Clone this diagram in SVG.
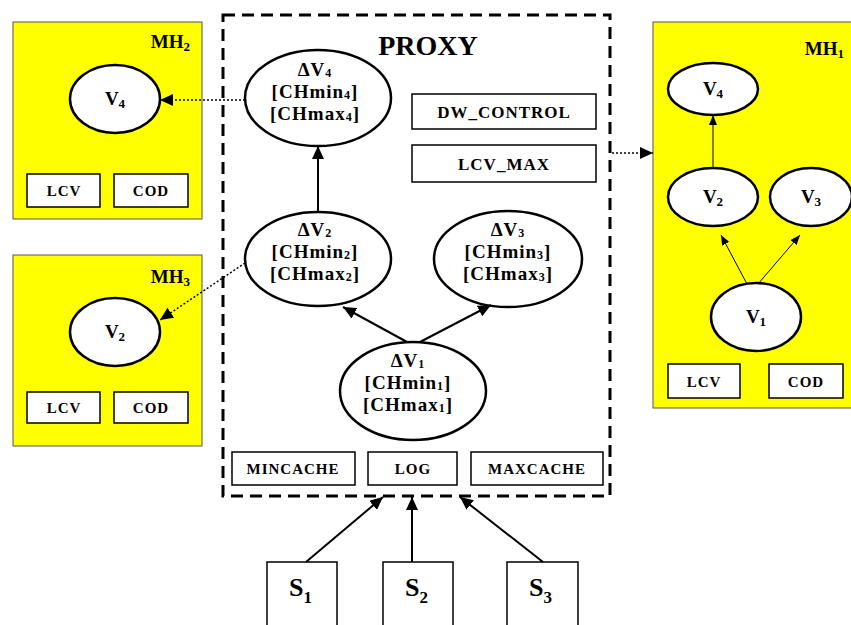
<svg xmlns="http://www.w3.org/2000/svg" width="851" height="625" viewBox="0 0 851 625">
<style>
text{font-family:"Liberation Serif","Times New Roman",serif;font-weight:bold;fill:#000}
.mh{fill:#ffff00;stroke:#555;stroke-width:1}
.el{fill:#fff;stroke:#000;stroke-width:2.5}
.box{fill:#fff;stroke:#000;stroke-width:1.5}
.sm{font-size:15px;letter-spacing:1px;text-anchor:middle}
.md{font-size:17px;letter-spacing:1px;text-anchor:middle}
.ev{font-size:19px;letter-spacing:1px;text-anchor:middle}
.v{font-size:19px;text-anchor:middle}
.lbl{font-size:19px;text-anchor:end}
.ln{stroke:#000;stroke-width:2;fill:none}
.thin{stroke:#000;stroke-width:1;fill:none}
.dot{stroke:#000;stroke-width:1.5;stroke-dasharray:2 2;fill:none}
</style>
<defs>
<marker id="arr" markerUnits="userSpaceOnUse" markerWidth="14" markerHeight="12" refX="13" refY="6" orient="auto"><path d="M0,0 L13,6 L0,12 z" fill="#000"/></marker>
<marker id="arrs" markerUnits="userSpaceOnUse" markerWidth="10" markerHeight="8" refX="10" refY="4" orient="auto"><path d="M0,0 L10,4 L0,8 z" fill="#000"/></marker>
</defs>

<g id="proxy">
<rect x="223" y="15" width="387" height="481" fill="#fff" stroke="#000" stroke-width="3" stroke-dasharray="12 7"/>
<text x="428" y="55" font-size="28" text-anchor="middle">PROXY</text>
</g>

<g id="dv4">
<ellipse class="el" cx="318" cy="98" rx="73" ry="48"/>
<text class="ev"><tspan x="315" y="76">ΔV<tspan font-size="12" dy="1">4</tspan></tspan><tspan x="315" y="98">[CHmin<tspan font-size="12" dy="1">4</tspan><tspan dy="-1">]</tspan></tspan><tspan x="315" y="120">[CHmax<tspan font-size="12" dy="1">4</tspan><tspan dy="-1">]</tspan></tspan></text>
</g>
<g id="dv2">
<ellipse class="el" cx="318" cy="259" rx="73" ry="47"/>
<text class="ev"><tspan x="315" y="236">ΔV<tspan font-size="12" dy="1">2</tspan></tspan><tspan x="315" y="258">[CHmin<tspan font-size="12" dy="1">2</tspan><tspan dy="-1">]</tspan></tspan><tspan x="315" y="280">[CHmax<tspan font-size="12" dy="1">2</tspan><tspan dy="-1">]</tspan></tspan></text>
</g>
<g id="dv3">
<ellipse class="el" cx="508" cy="259" rx="74" ry="48"/>
<text class="ev"><tspan x="508" y="236">ΔV<tspan font-size="12" dy="1">3</tspan></tspan><tspan x="508" y="258">[CHmin<tspan font-size="12" dy="1">3</tspan><tspan dy="-1">]</tspan></tspan><tspan x="508" y="280">[CHmax<tspan font-size="12" dy="1">3</tspan><tspan dy="-1">]</tspan></tspan></text>
</g>
<g id="dv1">
<ellipse class="el" cx="413" cy="391" rx="73" ry="49"/>
<text class="ev"><tspan x="408" y="367">ΔV<tspan font-size="12" dy="1">1</tspan></tspan><tspan x="408" y="389">[CHmin<tspan font-size="12" dy="1">1</tspan><tspan dy="-1">]</tspan></tspan><tspan x="408" y="411">[CHmax<tspan font-size="12" dy="1">1</tspan><tspan dy="-1">]</tspan></tspan></text>
</g>
<g id="dw_control">
<rect class="box" x="412" y="94" width="184" height="35"/>
<text class="md" x="504" y="118">DW_CONTROL</text>
</g>
<g id="lcv_max">
<rect class="box" x="412" y="145" width="184" height="37"/>
<text class="md" x="504" y="170">LCV_MAX</text>
</g>
<g id="mincache">
<rect class="box" x="232" y="452" width="123" height="33"/>
<text class="sm" x="293" y="474">MINCACHE</text>
</g>
<g id="log">
<rect class="box" x="368" y="452" width="89" height="33"/>
<text class="sm" x="413" y="474">LOG</text>
</g>
<g id="maxcache">
<rect class="box" x="471" y="452" width="132" height="33"/>
<text class="sm" x="537" y="474">MAXCACHE</text>
</g>

<g id="mh2">
<rect class="mh" x="13" y="22" width="189" height="197"/>
<text class="lbl" x="190" y="48">MH<tspan font-size="13" dy="3">2</tspan></text>
<ellipse class="el" cx="115" cy="99" rx="45" ry="34"/>
<text class="v" x="115" y="105">V<tspan font-size="13" dy="3">4</tspan></text>
<rect class="box" x="27" y="174" width="73" height="33"/>
<text class="sm" x="64" y="196">LCV</text>
<rect class="box" x="114" y="174" width="74" height="33"/>
<text class="sm" x="151" y="196">COD</text>
</g>

<g id="mh3">
<rect class="mh" x="13" y="255" width="189" height="191"/>
<text class="lbl" x="190" y="283">MH<tspan font-size="13" dy="3">3</tspan></text>
<ellipse class="el" cx="115" cy="332" rx="45" ry="34"/>
<text class="v" x="115" y="338">V<tspan font-size="13" dy="3">2</tspan></text>
<rect class="box" x="27" y="392" width="73" height="31"/>
<text class="sm" x="64" y="413">LCV</text>
<rect class="box" x="114" y="392" width="74" height="31"/>
<text class="sm" x="151" y="413">COD</text>
</g>

<g id="mh1">
<rect class="mh" x="653" y="22" width="210" height="386"/>
<text class="lbl" x="844" y="55">MH<tspan font-size="13" dy="3">1</tspan></text>
<ellipse class="el" cx="713" cy="89" rx="45" ry="26"/>
<text class="v" x="713" y="95">V<tspan font-size="13" dy="3">4</tspan></text>
<ellipse class="el" cx="713" cy="197" rx="45" ry="29"/>
<text class="v" x="713" y="203">V<tspan font-size="13" dy="3">2</tspan></text>
<ellipse class="el" cx="811" cy="197" rx="41" ry="29"/>
<text class="v" x="811" y="203">V<tspan font-size="13" dy="3">3</tspan></text>
<ellipse class="el" cx="756" cy="317" rx="45" ry="34"/>
<text class="v" x="756" y="323">V<tspan font-size="13" dy="3">1</tspan></text>
<rect class="box" x="668" y="364" width="72" height="34"/>
<text class="sm" x="704" y="387">LCV</text>
<rect class="box" x="769" y="364" width="74" height="34"/>
<text class="sm" x="806" y="387">COD</text>
</g>

<g id="s1">
<rect class="box" x="267" y="562" width="70" height="80"/>
<text x="289" y="596" font-size="26">S<tspan font-size="17" dy="7">1</tspan></text>
</g>
<g id="s2">
<rect class="box" x="383" y="562" width="70" height="80"/>
<text x="405" y="596" font-size="26">S<tspan font-size="17" dy="7">2</tspan></text>
</g>
<g id="s3">
<rect class="box" x="507" y="562" width="71" height="80"/>
<text x="529" y="596" font-size="26">S<tspan font-size="17" dy="7">3</tspan></text>
</g>

<g id="connectors">
<line class="ln" x1="318" y1="211" x2="318" y2="146" marker-end="url(#arr)"/>
<line class="ln" x1="407" y1="342" x2="343" y2="307" marker-end="url(#arr)"/>
<line class="ln" x1="420" y1="342" x2="491" y2="305" marker-end="url(#arr)"/>
<line class="dot" x1="245" y1="100" x2="160" y2="100" marker-end="url(#arr)"/>
<line class="dot" x1="245" y1="263" x2="160" y2="320" marker-end="url(#arr)"/>
<line class="dot" x1="612" y1="153" x2="653" y2="153" marker-end="url(#arr)"/>
<line class="ln" x1="306" y1="562" x2="383" y2="497" marker-end="url(#arr)"/>
<line class="ln" x1="412" y1="562" x2="412" y2="497" marker-end="url(#arr)"/>
<line class="ln" x1="543" y1="562" x2="460" y2="497" marker-end="url(#arr)"/>
<line class="thin" x1="713" y1="168" x2="713" y2="115" marker-end="url(#arrs)"/>
<line class="thin" x1="747" y1="284" x2="721" y2="235" marker-end="url(#arrs)"/>
<line class="thin" x1="758" y1="284" x2="800" y2="235" marker-end="url(#arrs)"/>
</g>
</svg>
